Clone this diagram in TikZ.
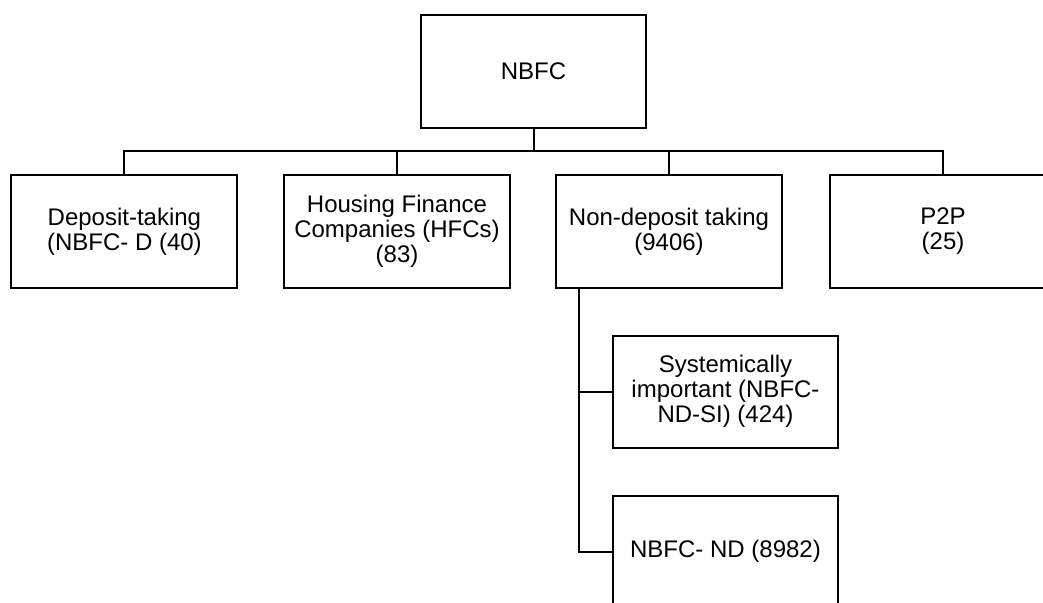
\documentclass[tikz,border=0pt]{standalone}
\usepackage{fontspec}
\setmainfont{Liberation Sans}
\begin{document}
\begin{tikzpicture}[x=1pt,y=-1pt,
  orgbox/.style={draw, line width=2pt, rectangle, minimum width=226pt, minimum height=113pt,
    align=center, inner sep=0pt, font=\fontsize{24}{25}\selectfont},
  link/.style={line width=2pt}]
\useasboundingbox (0,0) rectangle (1043,602);
\clip (0,0) rectangle (1043,602);
\node[orgbox, minimum width=225.5pt] (top) at (533.5,71.5) {NBFC};
\node[orgbox] (d1) at (124.4,231.5) {Deposit-taking\\(NBFC- D (40)};
\node[orgbox] (d2) at (397,231.5) {Housing Finance\\Companies (HFCs)\\(83)};
\node[orgbox] (d3) at (669,231.5) {Non-deposit taking\\(9406)};
\node[orgbox] (d4) at (943,231.5) {P2P\\(25)};
\node[orgbox, minimum width=225.6pt, minimum height=112pt] (si) at (725.5,391.7) {Systemically\\important (NBFC-\\ND-SI) (424)};
\node[orgbox, minimum width=225.6pt, minimum height=112pt] (nd) at (725.5,551.7) {NBFC- ND (8982)};
\coordinate (bus) at (0,151);
\coordinate (tr) at (579,0);
\draw[link] (top.south) -- (top.south |- bus);
\draw[link] (d1.north) |- (bus -| d4.north) -- (d4.north);
\draw[link] (d2.north) -- (d2.north |- bus);
\draw[link] (d3.north) -- (d3.north |- bus);
\draw[link] (d3.south -| tr) |- (nd.west);
\draw[link] (tr |- si.west) -- (si.west);
\end{tikzpicture}
\end{document}
